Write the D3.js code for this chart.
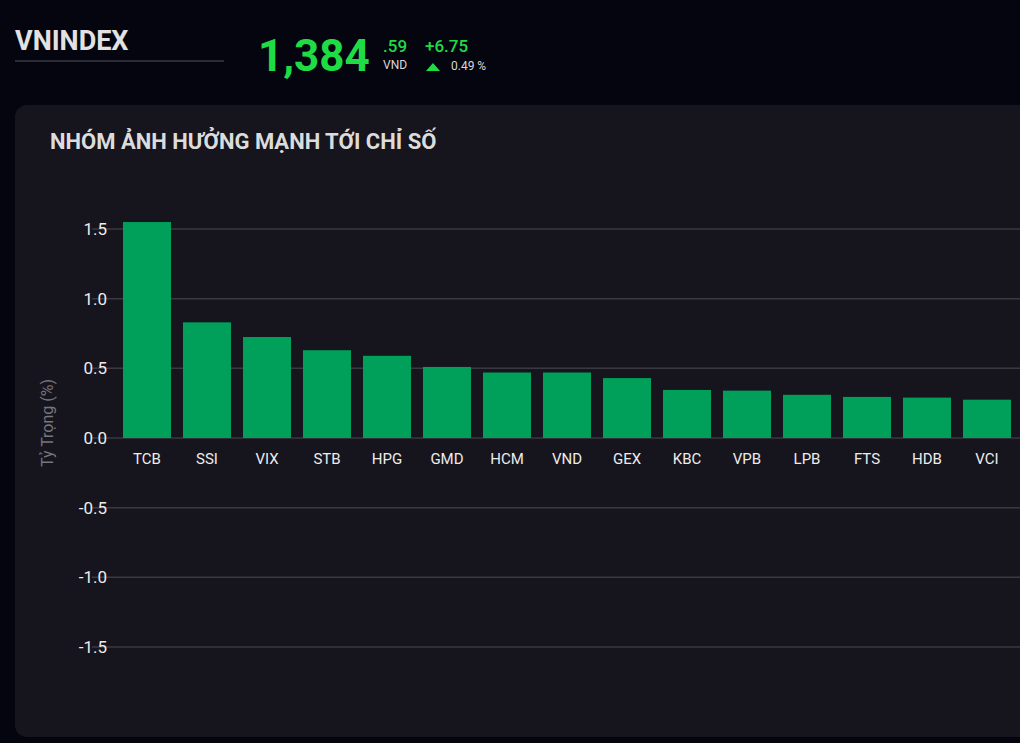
<!DOCTYPE html><html><head><meta charset="utf-8">
<script src="https://cdn.jsdelivr.net/npm/d3@7"></script>
<style>body{margin:0;background:#05050f;overflow:hidden}</style></head><body>
<svg id="c" width="1020" height="743"></svg>
<script>
const categories=["TCB","SSI","VIX","STB","HPG","GMD","HCM","VND","GEX","KBC","VPB","LPB","FTS","HDB","VCI"];
const values=[1.55,0.83,0.725,0.63,0.59,0.51,0.47,0.47,0.43,0.345,0.34,0.31,0.295,0.29,0.275];
const yTicks=[-1.5,-1.0,-0.5,0.0,0.5,1.0,1.5];
const svg=d3.select("#c");
const F="Roboto, 'Liberation Sans', sans-serif";
svg.append("rect").attr("width",1020).attr("height",743).attr("fill","#05050f");
svg.append("text").attr("x",15).attr("y",50).attr("font-family",F).attr("font-weight",700).attr("font-size",27).attr("fill","#e2e2e2").text("VNINDEX");
svg.append("line").attr("x1",15).attr("x2",224).attr("y1",61).attr("y2",61).attr("stroke","#55555f").attr("stroke-width",1);
svg.append("text").attr("x",258).attr("y",71).attr("font-family",F).attr("font-weight",700).attr("font-size",44).attr("fill","#1fdc45").text("1,384");
svg.append("text").attr("x",383).attr("y",52).attr("font-family",F).attr("font-weight",500).attr("font-size",17).attr("fill","#1fdc45").text(".59");
svg.append("text").attr("x",383).attr("y",69).attr("font-family",F).attr("font-size",12).attr("fill","#d8d8d8").text("VND");
svg.append("text").attr("x",425).attr("y",52).attr("font-family",F).attr("font-weight",500).attr("font-size",17).attr("fill","#1fdc45").text("+6.75");
svg.append("path").attr("d","M426,71 L433,63 L440,71 Z").attr("fill","#1fdc45");
svg.append("text").attr("x",451).attr("y",70).attr("font-family",F).attr("font-size",12).attr("fill","#d8d8d8").text("0.49 %");
svg.append("rect").attr("x",15).attr("y",105).attr("width",1030).attr("height",632).attr("rx",12).attr("fill","#16141d");
svg.append("text").attr("x",50).attr("y",149).attr("font-family",F).attr("font-weight",700).attr("font-size",22).attr("fill","#dcdcdc").text("NHÓM ẢNH HƯỞNG MẠNH TỚI CHỈ SỐ");
const y=d3.scaleLinear().domain([-1.5,1.5]).range([647,229]);
const x=d3.scaleBand().domain(categories).range([117,1017]).paddingInner(0.2).paddingOuter(0.1);
const g=svg.append("g");
yTicks.forEach(t=>{
 g.append("line").attr("x1",92).attr("x2",1020).attr("y1",y(t)).attr("y2",y(t)).attr("stroke","#3a3840").attr("stroke-width",1.5);
 g.append("text").attr("x",107).attr("y",y(t)+6).attr("text-anchor","end").attr("font-family",F).attr("font-size",17).attr("fill","#ececec").text(t.toFixed(1));
});
g.selectAll("rect.b").data(values).join("rect").attr("x",(d,i)=>x(categories[i])).attr("width",x.bandwidth())
 .attr("y",d=>y(d)).attr("height",d=>y(0)-y(d)).attr("fill","#00a05a");
g.selectAll("text.c").data(categories).join("text").attr("x",d=>x(d)+x.bandwidth()/2).attr("y",464).attr("text-anchor","middle")
 .attr("font-family",F).attr("font-size",15).attr("fill","#ececec").text(d=>d);
svg.append("text").attr("transform","translate(53,423) rotate(-90)").attr("text-anchor","middle").attr("font-family",F).attr("font-size",16).attr("fill","#77757d").text("Tỷ Trọng (%)");
</script></body></html>
